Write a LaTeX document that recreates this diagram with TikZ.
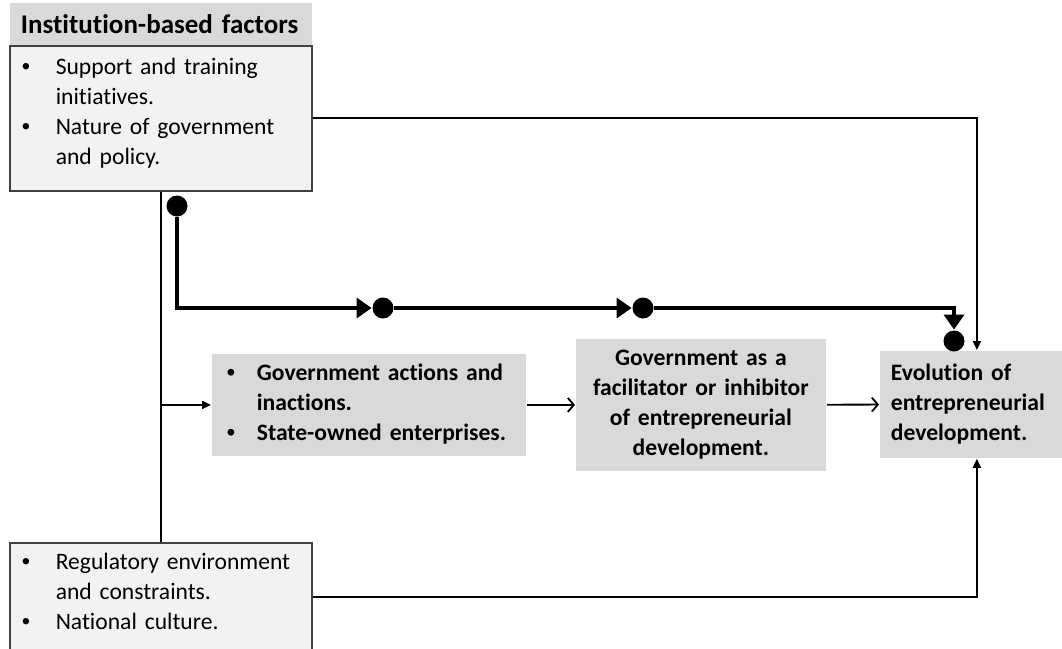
\documentclass[tikz,border=0pt]{standalone}
\usepackage{fontspec}
\setmainfont{Carlito}[Ligatures=NoCommon]
\newfontfamily\bulfont{Liberation Sans}
\usetikzlibrary{arrows.meta,positioning}
\newcommand{\boxgrey}{black!15}
\newcommand{\lightgrey}{black!5}
\newcommand{\itm}{{\bulfont\textbullet}}

\begin{document}
\begin{tikzpicture}[x=1pt,y=-1pt,line width=1.8pt,font=\fontsize{23.6}{30}\selectfont,
    >={Triangle[length=9pt,width=8pt]}]
    \tikzstyle{factor}=[draw=black!75,line width=1.5pt,fill=\lightgrey,anchor=north west,text width=302pt,inner xsep=0pt,inner ysep=0pt,align=left]
    \tikzstyle{stage}=[fill=\boxgrey,anchor=north west,inner ysep=0pt,font=\fontsize{23.6}{30}\selectfont\bfseries]
    \tikzstyle{dot}=[circle,fill=black,inner sep=0pt,minimum size=21pt]
    \tikzset{open/.style={-{Straight Barb[length=6pt,width=14pt]}},
             heavy/.style={line width=3.5pt,-{Triangle[length=15pt,width=20pt]}}}
    \useasboundingbox (0,0) rectangle (1062,648);
    % institution boxes
    \node[stage,text width=302pt,inner xsep=0pt,minimum height=43pt,align=left,font=\fontsize{27}{30}\selectfont\bfseries] (title) at (9,2) {\hspace*{11pt}Institution-based factors};
    \node[factor,minimum height=145pt] (instA) at (9,45) {\begin{tabular}{@{\hspace*{12pt}}p{34pt}@{}l@{}}
        \itm & Support and training\\ & initiatives.\\
        \itm & Nature of government\\ & and policy.\\[10pt]\end{tabular}};
    \node[factor,minimum height=108pt] (instB) at (9,542) {\begin{tabular}{@{\hspace*{12pt}}p{34pt}@{}l@{}}
        \itm & Regulatory environment\\ & and constraints.\\
        \itm & National culture.\\[6pt]\end{tabular}};
    % government boxes
    \node[stage,text width=314pt,inner xsep=0pt,minimum height=102pt,align=left] (acts) at (211,353) {\begin{tabular}{@{\hspace*{15pt}}p{30pt}@{}l@{}}
        \itm & Government actions and\\ & inactions.\\
        \itm & State-owned enterprises.\end{tabular}};
    \node[stage,text width=250pt,inner xsep=0pt,minimum height=132pt,align=center] (role) at (575,338) {Government as a\\facilitator or inhibitor\\of entrepreneurial\\development.};
    \node[stage,text width=172pt,inner xsep=11pt,minimum height=107pt,align=left] (evol) at (879,350) {Evolution of\\entrepreneurial\\development.};
    % dots
    \node[dot] (d0) at (177,206) {};
    \node[dot] (d1) at (383,308) {};
    \node[dot] (d2) at (643,308) {};
    \node[dot] (d3) at (954,341) {};
    \coordinate (split) at (acts.west -| instA.south);
    % links
    \draw (instA.south) -- (instB.north);
    \draw[->] (split) -- (acts.west);
    \draw[->] (instA.east) -| (evol.north);
    \draw[->] (instB.east) -| (evol.south);
    \draw[open] (acts) -- (role);
    \draw[open] (role) -- (evol);
    \draw[heavy] (d0) |- (d1);
    \draw[heavy] (d1) -- (d2);
    \draw[heavy] (d2) -| (d3);
\end{tikzpicture}
\end{document}
